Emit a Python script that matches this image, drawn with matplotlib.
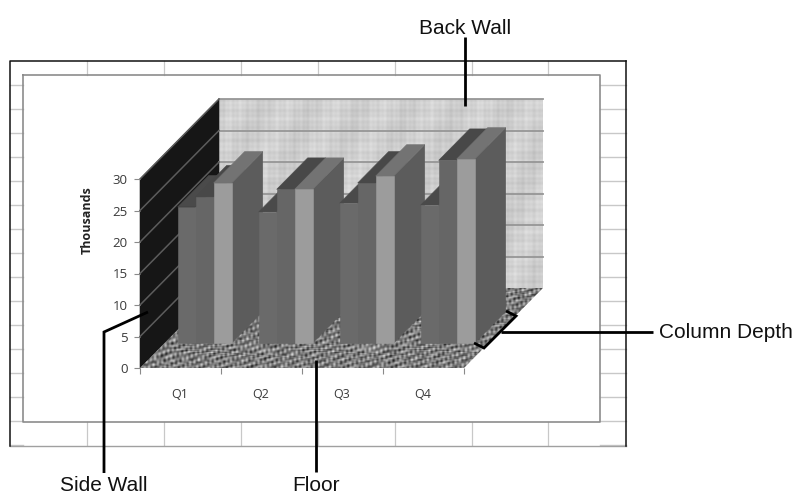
import numpy as np
import matplotlib
matplotlib.use('Agg')
import matplotlib.pyplot as plt
from matplotlib.patches import Polygon

# values (thousands)
quarters = ['Q1', 'Q2', 'Q3', 'Q4']
series_a = [21.6, 20.8, 22.2, 21.9]
series_b = [23.2, 24.4, 25.4, 29.0]
series_c = [25.4, 24.4, 26.5, 29.2]
y_ticks = [0, 5, 10, 15, 20, 25, 30]

W, H = 795, 495
fig = plt.figure(figsize=(W / 100, H / 100), dpi=100)

# page layer in pixel coordinates: sheet frame, callouts
page = fig.add_axes([0, 0, 1, 1])
page.set_xlim(0, W)
page.set_ylim(H, 0)
page.axis('off')
page.set_zorder(5)

# chart layer: x in categories, y in thousands
ax = fig.add_axes([140 / W, 1 - 368 / H, 324 / W, 189 / H])
ax.set_xlim(0, 4)
ax.set_ylim(0, 30)
ax.patch.set_visible(False)
for s in ax.spines.values():
    s.set_visible(False)

DX = 79 / 81      # wall depth in category units
DY = 80 / 6.3     # wall depth in value units


def proj(x, y, d):
    return (x + d * DX, y + d * DY)


def poly(pts, color, z=2, ec=None, lw=0.4):
    p = Polygon(pts, closed=True, facecolor=color, edgecolor=ec or color, lw=lw,
                zorder=z, clip_on=False)
    ax.add_patch(p)
    return p


def texture(kind, n=300):
    # sum of sines gives a mottled look without random data
    u, v = np.meshgrid(np.arange(n * 2), np.arange(n), indexing='xy')
    if kind == 'wall':
        t = (np.sin(u * 0.9 + 2 * np.sin(u * 0.05)) + np.sin(u * 0.37 + 1)
             + np.sin(v * 1.1 + 2 * np.sin(v * 0.07)) + np.sin(v * 0.43 + 2)
             + 1.5 * np.sin(u * 0.09 + v * 0.05))
        return 207 + 3.5 * t
    t = (np.sin(u * 0.37 + v * 0.9) + np.sin(u * 0.83 - v * 0.53 + 1) + np.sin(u * 0.19 + v * 1.2 + 2)
         + np.sin(u * 1.1 + v * 0.31) + np.sin(u * 0.31 * np.sin(v * 0.13) + v * 0.7))
    return 125 + 21 * t


def textured(pts, kind, z):
    clip = poly(pts, 'none', z=z, ec='none')
    im = ax.imshow(texture(kind), cmap='gray', vmin=0, vmax=255, extent=(-0.1, 5.1, -2, 44),
                   aspect='auto', zorder=z, interpolation='bilinear')
    im.set_clip_box(fig.bbox)
    im.set_clip_path(clip)
    ax.set_xlim(0, 4)
    ax.set_ylim(0, 30)


# back wall, side wall, floor
textured([proj(0, 0, 1), proj(4, 0, 1), proj(4, 30, 1), proj(0, 30, 1)], 'wall', 1)
poly([proj(0, 0, 0), proj(0, 0, 1), proj(0, 30, 1), proj(0, 30, 0)], '#161616', z=1)
textured([proj(0, 0, 0), proj(4, 0, 0), proj(4, 0, 1), proj(0, 0, 1)], 'floor', 1)

for v in y_ticks[1:]:
    xs, ys = zip(proj(0, v, 0), proj(0, v, 1), proj(4, v, 1))
    back = ax.plot(xs[1:], ys[1:], color='#969696', lw=1.3, zorder=1.5, clip_on=False)
    side = ax.plot(xs[:2], ys[:2], color='#5c5c5c', lw=1.1, zorder=1.5, clip_on=False)

# columns
BAR_W = 18 / 81
BAR_D = 31 / 79
OFFSET = 13 / 81
FRONT = 25 / 80
faces = {
    'a': ('#6a6a6a', '#4a4a4a', '#5c5c5c'),
    'b': ('#666666', '#484848', '#5c5c5c'),
    'c': ('#9c9c9c', '#737373', '#5c5c5c'),
}
z = 3
for i in range(4):
    for j, (key, vals) in enumerate(zip('abc', (series_a, series_b, series_c))):
        x0 = i + OFFSET + j * BAR_W
        x1 = x0 + BAR_W
        h = vals[i]
        d0, d1 = FRONT, FRONT + BAR_D
        front, top, side = faces[key]
        o0 = proj(x0, 0, d0)
        o1 = proj(x1, 0, d0)
        t0 = proj(x0, h, d0)
        t1 = proj(x1, h, d0)
        poly([o1, proj(x1, 0, d1), proj(x1, h, d1), t1], side, z=z)
        poly([t0, t1, proj(x1, h, d1), proj(x0, h, d1)], top, z=z)
        poly([o0, o1, t1, t0], front, z=z + 0.1)
        z += 1

ax.set_yticks(y_ticks)
ax.set_xticks(range(5))
ax.set_xticklabels([])
ax.tick_params(axis='both', length=4, width=0.8, color='#8a8a8a')
ax.tick_params(axis='y', labelsize=9.5, labelcolor='#3a3a3a', pad=5)
for t in ax.get_yticklabels():
    t.set_family('Open Sans')
for i, q in enumerate(quarters):
    ax.text(i + 0.49, -4.2, q, ha='center', va='center', fontsize=9, family='Open Sans', color='#3a3a3a')
ax.text(-0.65, 23.5, 'Thousands', rotation=90, ha='center', va='center', fontsize=9,
        family='Open Sans', fontweight='bold', color='#222222')

# spreadsheet cells around the chart
cell = '#c8c8c8'
for x in [87, 164, 241, 318, 395, 472, 548]:
    page.plot([x, x], [61, 75], color=cell, lw=0.9)
    page.plot([x, x], [422, 445], color=cell, lw=0.9)
for y in range(85, 446, 24):
    page.plot([10, 23], [y, y], color=cell, lw=1)
    page.plot([600, 625.5], [y, y], color=cell, lw=1)
page.plot([10, 625.5], [445.5, 445.5], color='#a0a0a0', lw=1)
page.plot([625.5, 625.5], [60.5, 445.5], color='#111111', lw=1.1)
page.plot([10, 10, 625.5], [445.5, 60.5, 60.5], color='#111111', lw=1.1)
page.plot([23, 23, 600, 600, 23], [75, 422, 422, 75, 75], color='#8c8c8c', lw=1.2)

# callouts
black = dict(color='black', lw=2, solid_capstyle='butt', solid_joinstyle='miter')
page.plot([465, 465], [37, 106], **black)
page.plot([148, 104, 104], [312, 332, 473], **black)
page.plot([316, 316], [360, 472], **black)
page.plot([474, 484, 516, 506], [343, 348, 316, 311], **black)
page.plot([501, 653], [332, 332], **black)
label = dict(family='Liberation Sans', fontsize=15, color='#111111', va='center')
page.text(465, 28, 'Back Wall', ha='center', **label)
page.text(104, 485.5, 'Side Wall', ha='center', **label)
page.text(316, 485.5, 'Floor', ha='center', **label)
page.text(659, 333, 'Column Depth', ha='left', **label)

fig.savefig('out.png', dpi=100)
